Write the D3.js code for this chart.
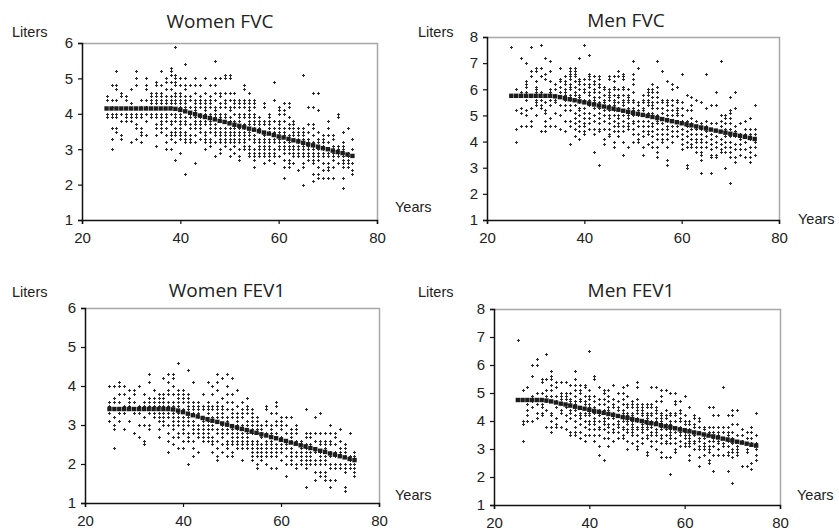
<!DOCTYPE html>
<html>
<head>
<meta charset="utf-8">
<script src="https://cdn.jsdelivr.net/npm/d3@7"></script>
<style>
  body { margin: 0; background: #fff; }
  svg { display: block; }
  .lbl { font-family: "Liberation Sans", Arial, sans-serif; font-size: 14.5px; fill: #222; }
  .ttl { font-family: "Open Sans", "Noto Sans", sans-serif; font-size: 19px; fill: #222; }
</style>
</head>
<body>
<svg id="chart" width="839" height="531"></svg>
<script>
// ages of the fitted (predicted) curve
var lineAges = [25,26,27,28,29,30,31,32,33,34,35,36,37,38,39,40,41,42,43,44,45,46,47,48,49,50,
  51,52,53,54,55,56,57,58,59,60,61,62,63,64,65,66,67,68,69,70,71,72,73,74,75];

var womenFvcLine = [4.15,4.15,4.15,4.15,4.15,4.15,4.15,4.15,4.15,4.15,4.15,4.15,4.15,4.15,4.14,4.11,
  4.07,4.03,3.99,3.95,3.91,3.88,3.84,3.80,3.77,3.73,3.69,3.66,3.62,3.58,3.55,3.51,3.47,3.44,3.40,3.36,
  3.33,3.29,3.25,3.22,3.18,3.14,3.11,3.07,3.03,3.00,2.96,2.92,2.89,2.85,2.81];
var menFvcLine = [5.75,5.75,5.75,5.75,5.75,5.75,5.75,5.75,5.75,5.73,5.70,5.66,5.62,5.58,5.54,5.50,
  5.46,5.42,5.38,5.34,5.30,5.26,5.22,5.18,5.14,5.10,5.06,5.02,4.98,4.94,4.90,4.86,4.82,4.78,4.74,4.70,
  4.66,4.62,4.58,4.54,4.50,4.46,4.42,4.38,4.34,4.30,4.26,4.22,4.18,4.14,4.10];
var womenFev1Line = [3.41,3.41,3.41,3.41,3.41,3.41,3.41,3.41,3.41,3.41,3.41,3.41,3.41,3.40,3.37,3.33,
  3.29,3.25,3.22,3.18,3.15,3.11,3.08,3.04,3.01,2.97,2.94,2.90,2.87,2.83,2.80,2.76,2.73,2.69,2.66,2.62,
  2.59,2.55,2.52,2.48,2.45,2.41,2.38,2.34,2.31,2.27,2.24,2.20,2.17,2.13,2.10];
var menFev1Line = [4.75,4.75,4.75,4.75,4.75,4.75,4.73,4.70,4.66,4.62,4.59,4.55,4.51,4.47,4.44,4.40,
  4.36,4.33,4.29,4.25,4.22,4.18,4.14,4.11,4.07,4.03,4.00,3.96,3.92,3.89,3.85,3.81,3.78,3.74,3.70,3.67,
  3.63,3.59,3.56,3.52,3.48,3.45,3.41,3.37,3.34,3.30,3.26,3.23,3.19,3.15,3.12];

// measured values: [age, [liters, ...]]
var womenFvcPts = [
  [25,[4.5,4.4,4.0,3.9]],[26,[4.8,4.4,4.2,4.0,3.9,3.6,3.3,3.0]],[27,[5.2,4.8,4.7,4.4,4.0,3.9,3.6,3.5]],
  [28,[4.6,4.5,4.0,3.8,3.4,3.3]],[29,[4.5,4.4,4.0,3.9,3.8]],[30,[4.7,4.3,4.0,3.9,3.8,3.2]],
  [31,[5.2,5.0,4.8,4.0,3.9,3.7,3.6,3.3]],[32,[4.4,4.2,4.0,3.9,3.6,3.5,3.4,3.2]],[33,[5.0,4.8,4.7,4.4,4.2,4.0,3.8,3.4]],
  [34,[4.6,4.5,4.4,4.3,4.0,3.9]],[35,[4.9,4.8,4.6,4.5,4.4,4.3,4.0,3.9,3.7,3.6,3.4,3.1]],
  [36,[5.2,4.8,4.6,4.5,4.4,4.3,4.0,3.9,3.8,3.7,3.6,3.5]],[37,[5.0,4.9,4.7,4.5,4.4,4.3,4.0,3.9,3.8,3.6,3.4,3.2,3.0]],
  [38,[5.3,5.2,5.1,4.9,4.7,4.5,4.4,4.3,4.2,4.0,3.8,3.7,3.5,3.4,3.3,3.0]],
  [39,[5.9,5.1,5.0,4.9,4.8,4.6,4.5,4.4,4.3,4.0,3.9,3.8,3.6,3.5,3.4,3.2,2.7]],
  [40,[5.0,4.8,4.6,4.5,4.4,4.3,4.2,4.0,3.9,3.8,3.7,3.6,3.5,3.4,3.3,2.9]],
  [41,[5.4,5.0,4.8,4.7,4.5,4.4,4.3,4.2,3.9,3.8,3.7,3.5,3.4,3.3,3.2,2.3]],
  [42,[4.8,4.5,4.4,4.2,4.0,3.9,3.7,3.6,3.4,3.3,3.2]],[43,[5.0,4.8,4.6,4.4,4.3,4.2,4.1,3.9,3.8,3.7,3.6,3.4,3.2,2.6]],
  [44,[4.8,4.5,4.4,4.3,4.2,4.0,3.9,3.8,3.7,3.6,3.5,3.3]],[45,[5.0,4.6,4.4,4.3,4.2,4.1,4.0,3.9,3.8,3.7,3.5,3.4,3.3,3.2,3.0]],
  [46,[4.8,4.5,4.4,4.3,4.2,4.0,3.9,3.8,3.7,3.6,3.5,3.3,3.2,3.1]],[47,[5.5,5.0,4.8,4.6,4.4,4.2,4.1,4.0,3.9,3.7,3.6,3.5,3.4,3.2,2.8]],
  [48,[5.0,4.6,4.5,4.3,4.2,4.0,3.9,3.8,3.6,3.5,3.4,3.3,3.2,3.0,2.9]],[49,[5.1,5.0,4.6,4.4,4.3,4.2,4.0,3.9,3.8,3.6,3.5,3.4,3.3,3.2,3.1]],
  [50,[5.1,5.0,4.6,4.4,4.2,4.1,3.9,3.8,3.6,3.5,3.4,3.3,3.2,3.0,2.8]],[51,[4.6,4.4,4.3,4.2,4.0,3.8,3.7,3.6,3.5,3.4,3.3,3.2,3.1,2.9]],
  [52,[4.4,4.3,4.2,4.0,3.9,3.8,3.6,3.5,3.4,3.3,3.2,3.0,2.8,2.7]],[53,[4.8,4.7,4.4,4.3,4.2,4.0,3.9,3.7,3.6,3.5,3.4,3.3,3.2,3.1,3.0]],
  [54,[4.6,4.4,4.3,4.2,4.1,4.0,3.9,3.8,3.7,3.5,3.4,3.3,3.1,3.0,2.9,2.8]],[55,[4.4,4.3,4.2,4.0,3.9,3.8,3.7,3.6,3.4,3.3,3.2,3.0,2.9,2.8,2.7,2.5]],
  [56,[3.9,3.8,3.7,3.6,3.5,3.3,3.2,3.1,3.0,2.9,2.8]],[57,[4.3,4.2,3.8,3.7,3.5,3.4,3.3,3.2,3.1,3.0,2.9,2.8,2.6]],
  [58,[4.0,3.9,3.8,3.7,3.6,3.5,3.3,3.2,3.1,3.0,2.9,2.8,2.7]],[59,[4.9,4.4,3.8,3.6,3.5,3.3,3.2,3.0,2.9,2.8,2.6]],
  [60,[4.2,4.1,4.0,3.8,3.7,3.6,3.5,3.3,3.2,3.1,3.0,2.8]],[61,[4.3,4.1,4.0,3.8,3.6,3.5,3.4,3.2,3.1,3.0,2.9,2.7,2.5,2.2]],
  [62,[4.3,4.2,3.9,3.7,3.6,3.4,3.2,3.1,3.0,2.9,2.7,2.6,2.5]],[63,[3.8,3.7,3.6,3.5,3.4,3.3,3.1,3.0,2.9,2.8,2.6]],
  [64,[3.6,3.5,3.4,3.3,3.2,3.1,3.0,2.9,2.8,2.4]],[65,[5.1,3.6,3.5,3.4,3.3,3.1,3.0,2.9,2.8,2.6,2.5,2.0]],
  [66,[4.2,3.7,3.5,3.3,3.2,3.1,3.0,2.9,2.8,2.7]],[67,[4.6,4.2,3.7,3.6,3.4,3.2,3.1,3.0,2.9,2.8,2.7,2.6,2.3,2.1]],
  [68,[4.6,4.1,3.5,3.3,3.2,3.0,2.9,2.8,2.7,2.5,2.3,2.2]],[69,[3.4,3.3,3.2,3.1,3.0,2.9,2.8,2.6,2.4,2.2]],
  [70,[3.8,3.6,3.4,3.2,3.0,2.9,2.8,2.6,2.5,2.4,2.2]],[71,[3.4,3.3,3.1,3.0,2.9,2.8,2.7,2.5,2.2]],
  [72,[4.0,3.9,3.1,3.0,2.9,2.8,2.6]],[73,[3.5,3.2,3.1,3.0,2.9,2.8,2.7,2.6,2.5,2.2,1.9]],
  [74,[3.6,2.9,2.8,2.7,2.6,2.5]],[75,[3.3,3.0,2.8,2.6,2.4,2.3]]
];

var menFvcPts = [
  [25,[7.6]],[26,[6.0,5.2,4.5,4.0]],[27,[7.2,5.9,5.8,5.3,5.1,4.6]],[28,[7.0,6.3,6.2,6.1,5.9,5.8,5.6,5.2,5.0,4.6]],
  [29,[7.6,6.7,6.5,5.8,5.3,4.8,4.6]],[30,[6.8,6.7,6.3,6.1,6.0,5.9,5.6,5.5,5.4,5.0]],[31,[7.7,6.8,6.5,5.9,5.6,5.4,5.3,4.4]],
  [32,[7.2,6.6,6.4,5.8,5.5,5.2,5.1,4.8,4.6,4.4]],[33,[7.1,6.7,6.3,6.0,5.9,5.6,5.4,4.9,4.6]],[34,[6.2,6.0,5.8,5.6,5.5,5.1,4.6]],
  [35,[6.8,6.4,6.3,6.1,5.9,5.7,5.4,5.0,4.5]],[36,[6.5,6.3,6.2,6.0,5.9,5.8,5.6,5.4,5.2,4.8,4.4]],
  [37,[6.8,6.7,6.6,6.5,6.4,6.2,6.1,6.0,5.8,5.6,5.4,5.2,4.8,4.6,3.9]],[38,[6.8,6.7,6.6,6.5,6.3,6.1,5.9,5.8,5.6,5.4,5.1,4.9,4.7,4.5,4.2]],
  [39,[7.2,6.4,6.3,6.2,6.0,5.8,5.7,5.5,5.3,5.2,5.0,4.8,4.6,4.4,4.1]],[40,[7.7,6.4,6.2,6.0,5.9,5.6,5.3,5.1,4.9,4.7,4.6,4.4,4.3]],
  [41,[7.3,6.6,6.5,6.4,6.2,6.1,5.9,5.8,5.6,5.4,5.1,4.9,4.7,4.5]],[42,[6.5,6.3,6.2,6.0,5.9,5.7,5.6,5.5,5.3,5.0,4.8,4.5,4.3,3.6]],
  [43,[6.5,6.4,6.2,6.1,5.9,5.7,5.5,5.3,5.1,4.9,4.7,4.5,4.4,3.1]],[44,[6.1,6.0,5.8,5.6,5.5,5.2,5.0,4.8,4.5,4.1,3.9]],
  [45,[6.5,6.4,6.0,5.9,5.8,5.7,5.6,5.4,5.2,5.0,4.9,4.7,4.5,4.3,4.2]],[46,[6.5,6.3,6.1,6.0,5.8,5.6,5.5,5.4,5.2,5.0,4.8,4.6,4.4,4.0,3.8]],
  [47,[6.7,6.5,6.0,5.8,5.7,5.5,5.3,5.2,5.0,4.9,4.7,4.6,4.4,4.2]],[48,[6.6,6.5,6.4,6.1,6.0,5.8,5.6,5.5,5.4,5.2,5.0,4.8,4.6,4.4,4.0,3.5]],
  [49,[6.0,5.8,5.7,5.6,5.5,5.3,5.2,5.1,5.0,4.9,4.7,4.6,4.5,3.8]],[50,[7.1,6.6,6.4,6.2,5.9,5.6,5.5,5.3,5.2,5.0,4.8,4.7,4.5,4.3,4.0]],
  [51,[6.8,5.5,5.4,5.2,5.0,4.8,4.6,4.3,4.1,4.0]],[52,[5.8,5.6,5.5,5.3,5.2,5.0,4.8,4.6,4.4,4.2,3.8,3.5]],
  [53,[6.0,5.9,5.8,5.6,5.5,5.4,5.1,5.0,4.8,4.6,4.4,4.3,3.9]],[54,[6.2,6.0,5.9,5.7,5.5,5.4,5.3,5.1,5.0,4.7,4.6,4.4,4.2,4.0,3.8]],
  [55,[7.1,6.1,5.9,5.7,5.5,5.3,5.0,4.8,4.7,4.5,4.3,4.1,3.8,3.6,3.4]],[56,[6.7,5.6,5.5,5.3,5.1,4.9,4.7,4.5,4.3,4.1,4.0]],
  [57,[6.3,5.6,5.5,5.4,5.2,5.0,4.8,4.6,4.5,4.3,4.1,3.8,3.3,3.1]],[58,[6.2,6.0,5.6,5.4,5.2,5.0,4.8,4.6,4.4,4.2,4.0]],
  [59,[6.1,5.6,5.5,5.3,5.2,5.1,5.0,4.8,4.6,4.4,4.2]],[60,[6.6,5.5,5.3,5.0,4.8,4.5,4.3,4.1,3.9,3.7]],
  [61,[5.8,5.2,4.8,4.6,4.4,4.2,4.0,3.8,3.1,3.0]],[62,[5.7,5.4,5.2,4.9,4.7,4.5,4.3,4.1,3.9,3.8]],
  [63,[5.6,4.8,4.6,4.5,4.3,4.1,4.0,3.8,3.6]],[64,[5.5,4.7,4.5,4.3,4.1,4.0,3.8,3.6,3.5,3.3,2.8]],
  [65,[6.6,5.3,4.8,4.6,4.4,4.2,4.0,3.8]],[66,[5.4,4.7,4.5,4.3,4.1,3.9,3.7,3.5,3.4,2.8]],
  [67,[5.9,5.4,4.7,4.4,4.2,4.0,3.8,3.5,3.4]],[68,[7.1,5.0,4.8,4.6,4.4,4.1,3.9,3.7,3.6]],
  [69,[5.0,4.9,4.7,4.5,4.2,4.0,3.8,3.6,3.0]],[70,[5.7,5.2,5.1,4.9,4.7,4.5,4.2,4.0,3.8,3.6,3.4,2.4]],
  [71,[5.9,5.3,4.6,4.4,4.2,3.9,3.7,3.4,3.2]],[72,[4.7,4.3,4.1,3.9,3.7,3.5]],[73,[4.8,4.5,4.3,4.0,3.7,3.4]],
  [74,[4.9,4.5,4.3,4.1,3.8,3.6,3.4,3.2]],[75,[5.4,4.5,4.3,4.0,3.8,3.5]]
];

var womenFev1Pts = [
  [25,[4.0,3.6,3.5,3.3,3.1]],[26,[4.0,3.7,3.6,3.2,3.0,2.9,2.4]],[27,[4.1,4.0,3.8,3.6,3.3,3.1]],[28,[4.0,3.8,3.5,3.3,2.9]],
  [29,[3.9,3.7,3.6,3.5,3.1]],[30,[3.9,3.8,3.6,3.3,2.8]],[31,[4.0,3.5,3.3,3.0,2.7]],[32,[3.8,3.6,3.5,3.2,3.0,2.6,2.5]],
  [33,[4.3,4.1,3.7,3.6,3.5,3.3,3.0,2.9]],[34,[3.9,3.7,3.6,3.5,3.3,3.2]],[35,[3.8,3.7,3.6,3.5,3.3,3.2,3.1,2.9,2.7]],
  [36,[4.2,3.8,3.7,3.6,3.5,3.3,3.2,3.1,3.0]],[37,[4.3,4.1,3.9,3.8,3.6,3.5,3.3,3.2,3.0,2.8,2.6,2.3]],
  [38,[4.3,4.2,4.0,3.8,3.6,3.5,3.3,3.2,3.1,3.0,2.9,2.7,2.5]],[39,[4.6,3.9,3.8,3.7,3.6,3.5,3.3,3.2,3.1,3.0,2.8,2.7,2.4]],
  [40,[3.9,3.8,3.7,3.6,3.4,3.2,3.1,3.0,2.9,2.8,2.6,2.4]],[41,[4.4,3.8,3.7,3.6,3.5,3.4,3.2,3.1,3.0,2.8,2.7,2.6,2.0]],
  [42,[4.1,3.6,3.5,3.4,3.3,3.1,3.0,2.9,2.8,2.6,2.4,2.2]],[43,[3.6,3.5,3.4,3.3,3.2,3.0,2.9,2.8,2.7,2.3]],
  [44,[3.8,3.5,3.4,3.2,3.1,3.0,2.9,2.8,2.7,2.6]],[45,[4.1,3.6,3.5,3.4,3.3,3.1,3.0,2.9,2.8,2.7,2.6]],
  [46,[4.0,3.8,3.5,3.4,3.2,3.1,3.0,2.9,2.7,2.6,2.5,2.3]],[47,[4.3,4.1,3.9,3.6,3.5,3.4,3.3,3.2,3.1,2.9,2.8,2.6,2.4,2.2,2.1]],
  [48,[4.2,3.7,3.5,3.4,3.3,3.2,3.0,2.9,2.8,2.7,2.5,2.3]],[49,[4.3,4.0,3.8,3.6,3.4,3.2,3.1,3.0,2.9,2.8,2.6,2.5,2.4,2.2]],
  [50,[4.2,3.8,3.6,3.4,3.3,3.2,3.0,2.9,2.8,2.7,2.6,2.5,2.3,2.2]],[51,[3.9,3.5,3.3,3.2,3.1,3.0,2.9,2.8,2.7,2.6,2.5,2.4]],
  [52,[3.6,3.4,3.3,3.2,3.0,2.9,2.8,2.7,2.6,2.5,2.4,2.1]],[53,[3.7,3.5,3.4,3.3,3.1,3.0,2.9,2.8,2.7,2.6,2.5,2.4]],
  [54,[3.4,3.3,3.2,3.1,3.0,2.9,2.8,2.6,2.5,2.4,2.3,2.2,2.1]],[55,[3.2,3.1,3.0,2.9,2.8,2.6,2.5,2.4,2.3,2.2,2.0,1.9]],
  [56,[3.0,2.9,2.8,2.7,2.5,2.4,2.3,2.2,2.1]],[57,[3.5,3.4,3.1,3.0,2.8,2.6,2.5,2.4,2.3,2.2,2.0]],
  [58,[3.3,3.0,2.9,2.8,2.6,2.5,2.4,2.3,2.2,1.9]],[59,[3.6,3.5,3.3,3.1,3.0,2.8,2.7,2.5,2.4,2.3,2.2,1.9]],
  [60,[3.2,3.1,3.0,2.9,2.7,2.5,2.4,2.3,2.1]],[61,[3.2,3.0,2.8,2.6,2.5,2.4,2.2,2.0,1.7]],
  [62,[3.2,2.9,2.8,2.7,2.6,2.4,2.3,2.2,2.1,2.0]],[63,[3.0,2.9,2.8,2.6,2.5,2.3,2.2,2.0,1.9]],
  [64,[2.6,2.5,2.4,2.3,2.2,2.1,2.0]],[65,[3.4,2.8,2.7,2.5,2.4,2.3,2.2,2.1,2.0,1.9,1.4]],
  [66,[2.8,2.7,2.5,2.4,2.3,2.2,2.1,2.0]],[67,[3.2,2.8,2.6,2.4,2.3,2.1,2.0,1.8,1.6]],
  [68,[3.3,2.8,2.6,2.5,2.3,2.2,2.1,2.0,1.8,1.7]],[69,[2.8,2.6,2.5,2.4,2.2,2.1,2.0,1.8,1.7,1.6]],
  [70,[3.0,2.8,2.6,2.5,2.3,2.2,2.0,1.9,1.6,1.4]],[71,[2.8,2.7,2.5,2.3,2.2,2.0,1.9,1.6]],
  [72,[2.9,2.6,2.4,2.3,2.2,2.0,1.9]],[73,[2.5,2.4,2.3,2.2,2.0,1.9,1.8,1.4,1.3]],
  [74,[2.8,2.2,2.1,2.0,1.9]],[75,[2.3,2.2,2.0,1.9,1.8,1.7]]
];

var menFev1Pts = [
  [25,[6.9,4.8]],[26,[5.1,4.0,3.9,3.3]],[27,[5.2,4.6,4.4,4.2,4.0]],[28,[6.0,5.6,4.9,4.7,4.5,4.0]],
  [29,[6.2,6.0,5.0,4.6,4.3,4.1]],[30,[5.5,5.4,5.0,4.8,4.6,4.5,4.3,4.2]],[31,[6.4,5.5,5.1,4.9,4.7,4.4,3.8]],
  [32,[5.8,5.6,5.5,5.3,5.1,4.9,4.3,4.2,4.0,3.8,3.6]],[33,[5.4,5.2,4.9,4.7,4.5,4.1,3.9,3.8]],
  [34,[5.4,5.0,4.9,4.8,4.6,4.4,4.3,3.8]],[35,[5.4,5.0,4.9,4.8,4.6,4.5,4.2,4.0,3.7]],
  [36,[5.3,5.0,4.8,4.7,4.6,4.4,4.3,4.1,3.6,3.5]],[37,[5.8,5.5,5.3,5.1,4.9,4.7,4.6,4.4,4.2,4.0,3.8,3.6,3.5]],
  [38,[5.3,5.1,5.0,4.8,4.7,4.5,4.3,4.2,4.1,3.9,3.6,3.4]],[39,[5.3,5.2,4.9,4.7,4.6,4.3,4.2,4.0,3.8,3.5,3.3]],
  [40,[6.5,5.1,4.9,4.8,4.6,4.5,4.3,4.2,4.0,3.9,3.7,3.5]],[41,[5.6,5.5,4.9,4.7,4.5,4.3,4.1,4.0,3.9,3.7,3.5,3.3]],
  [42,[5.2,4.8,4.6,4.4,4.3,4.2,4.0,3.8,3.7,3.5,3.1,2.8]],[43,[5.1,5.0,4.8,4.6,4.4,4.3,4.1,4.0,3.9,3.7,3.4,2.6]],
  [44,[5.1,4.9,4.7,4.5,4.4,4.3,4.1,3.9,3.8,3.6,3.4,3.1]],[45,[5.3,4.8,4.6,4.5,4.3,4.2,4.1,3.9,3.7,3.6,3.3]],
  [46,[5.0,4.7,4.5,4.4,4.2,4.0,3.9,3.8,3.6,3.4]],[47,[5.2,5.0,4.8,4.6,4.4,4.3,4.1,4.0,3.8,3.7,3.5,3.4]],
  [48,[5.3,4.9,4.6,4.5,4.3,4.2,4.1,4.0,3.9,3.7,3.6,3.3,3.0]],[49,[4.7,4.6,4.5,4.3,4.2,4.0,3.9,3.8,3.7,3.6,3.5,3.2]],
  [50,[5.4,5.2,4.8,4.6,4.5,4.4,4.3,4.1,4.0,3.8,3.7,3.5,3.3,3.1,3.0]],[51,[4.6,4.5,4.4,4.3,4.2,4.0,3.9,3.8,3.7,3.6,3.4,3.2]],
  [52,[4.6,4.5,4.3,4.2,4.1,3.9,3.8,3.7,3.5,3.4,2.9,2.8]],[53,[5.2,4.6,4.5,4.3,4.2,4.0,3.9,3.8,3.6,3.5,3.3,3.1]],
  [54,[5.2,4.7,4.5,4.4,4.3,4.1,4.0,3.9,3.7,3.6,3.5,3.3,3.0]],[55,[5.1,4.9,4.7,4.3,4.2,4.1,4.0,3.8,3.7,3.5,3.4,3.2,2.9,2.7]],
  [56,[5.1,4.4,4.2,4.1,3.9,3.8,3.7,3.5,3.3,3.2,2.7]],[57,[5.0,4.3,4.2,4.0,3.9,3.7,3.6,3.5,3.4,3.2,2.7,2.1]],
  [58,[5.0,4.7,4.6,4.3,4.2,4.0,3.8,3.6,3.4,3.2,3.0,2.9]],[59,[4.7,4.4,4.3,4.1,4.0,3.8,3.7,3.6,3.5,3.3,3.1]],
  [60,[4.9,4.2,4.0,3.9,3.7,3.6,3.5,3.4,3.2,3.1]],[61,[4.5,4.0,3.9,3.7,3.5,3.4,3.3,3.2,3.1,2.8,2.6]],
  [62,[4.2,4.1,3.9,3.8,3.6,3.5,3.3,3.2,3.0]],[63,[4.1,4.0,3.8,3.6,3.4,3.3,3.1,3.0,2.7,2.4]],
  [64,[3.8,3.7,3.5,3.4,3.2,3.1,3.0,2.8]],[65,[4.5,3.8,3.6,3.5,3.3,3.1,3.0,2.9,2.6,2.5]],
  [66,[4.5,4.2,3.8,3.6,3.4,3.3,3.1,2.8,2.2]],[67,[4.2,3.8,3.6,3.5,3.3,3.2,3.0,2.8]],
  [68,[5.2,3.8,3.6,3.4,3.2,3.1,2.8]],[69,[4.2,3.8,3.6,3.5,3.3,3.1,2.9,2.8,2.2]],
  [70,[4.4,4.2,3.9,3.6,3.4,3.2,3.0,2.9,2.7,1.8]],[71,[4.4,3.9,3.5,3.3,3.1,3.0,2.9,2.8]],
  [72,[3.7,3.5,3.3,3.2,2.4]],[73,[3.6,3.4,3.2,3.0,2.9,2.4]],[74,[3.8,3.6,3.4,3.2,2.5,2.3]],[75,[4.3,3.5,3.2,3.0,2.8,2.6]]
];

var xTicks = [20, 40, 60, 80];

var svg = d3.select("#chart");

function drawPanel(p) {
    var x = d3.scaleLinear().domain([20, 80]).range([p.left, p.right]);
    var y = d3.scaleLinear().domain([1, p.yMax]).range([p.bottom, p.top]);
    var g = svg.append("g");

    // grey frame on top and right
    g.append("path")
        .attr("d", "M" + p.left + "," + (p.top + 0.5) + "H" + (p.right + 0.5) + "V" + p.bottom)
        .attr("fill", "none")
        .attr("stroke", "#a8a8a8")
        .attr("stroke-width", 1.5);

    var xAxis = g.append("g")
        .attr("transform", "translate(0," + p.bottom + ")")
        .call(d3.axisBottom(x).tickValues(xTicks).tickSize(4).tickPadding(5));
    var yAxis = g.append("g")
        .attr("transform", "translate(" + p.left + ",0)")
        .call(d3.axisLeft(y).ticks(p.yMax - 1).tickFormat(d3.format("d")).tickSize(4).tickPadding(5));
    [xAxis, yAxis].forEach(function (a) {
        a.select(".domain").attr("stroke", "#111").attr("stroke-width", 1.5);
        a.selectAll(".tick line").attr("stroke", "#111").attr("stroke-width", 1.2);
        a.selectAll(".tick text")
            .style("font-family", "'Liberation Sans', Arial, sans-serif")
            .style("font-size", "15px")
            .style("fill", "#222");
    });
    xAxis.selectAll(".tick text").attr("dy", "0.9em");

    // scatter of measurements
    var flat = [];
    p.pts.forEach(function (col) {
        col[1].forEach(function (v) { flat.push([col[0], v]); });
    });
    g.append("g").selectAll("path")
        .data(flat)
        .enter().append("path")
        .attr("transform", function (d) {
            return "translate(" + (Math.round(x(d[0])) + 0.5) + "," + (Math.round(y(d[1])) + 0.5) + ")";
        })
        .attr("d", "M-1.5,0H1.5M0,-1.5V1.5")
        .attr("stroke", "#2a2a2a")
        .attr("stroke-width", 1);

    // predicted values
    g.append("g").selectAll("rect")
        .data(p.line)
        .enter().append("rect")
        .attr("x", function (d, i) { return x(lineAges[i]) - 2.2; })
        .attr("y", function (d) { return y(d) - 2.2; })
        .attr("width", 4.4)
        .attr("height", 4.4)
        .attr("fill", "#1c1c1c");

    g.append("text").attr("class", "ttl")
        .attr("x", p.titleX).attr("y", p.titleY)
        .attr("text-anchor", "middle")
        .text(p.title);
    g.append("text").attr("class", "lbl")
        .attr("x", p.litersX).attr("y", p.litersY)
        .text("Liters");
    g.append("text").attr("class", "lbl")
        .attr("x", p.yearsX).attr("y", p.yearsY)
        .text("Years");
}

drawPanel({title: "Women FVC", pts: womenFvcPts, line: womenFvcLine, yMax: 6,
    left: 82, right: 377, top: 43, bottom: 220,
    titleX: 220, titleY: 28, litersX: 12, litersY: 37, yearsX: 395, yearsY: 212});
drawPanel({title: "Men FVC", pts: menFvcPts, line: menFvcLine, yMax: 8,
    left: 487, right: 779, top: 37, bottom: 220,
    titleX: 626, titleY: 27, litersX: 418, litersY: 37, yearsX: 798, yearsY: 224});
drawPanel({title: "Women FEV1", pts: womenFev1Pts, line: womenFev1Line, yMax: 6,
    left: 85, right: 379, top: 308, bottom: 503,
    titleX: 227, titleY: 297, litersX: 12, litersY: 297, yearsX: 395, yearsY: 500});
drawPanel({title: "Men FEV1", pts: menFev1Pts, line: menFev1Line, yMax: 8,
    left: 494, right: 780, top: 309, bottom: 505,
    titleX: 631, titleY: 297, litersX: 418, litersY: 297, yearsX: 797, yearsY: 500});
</script>
</body>
</html>
